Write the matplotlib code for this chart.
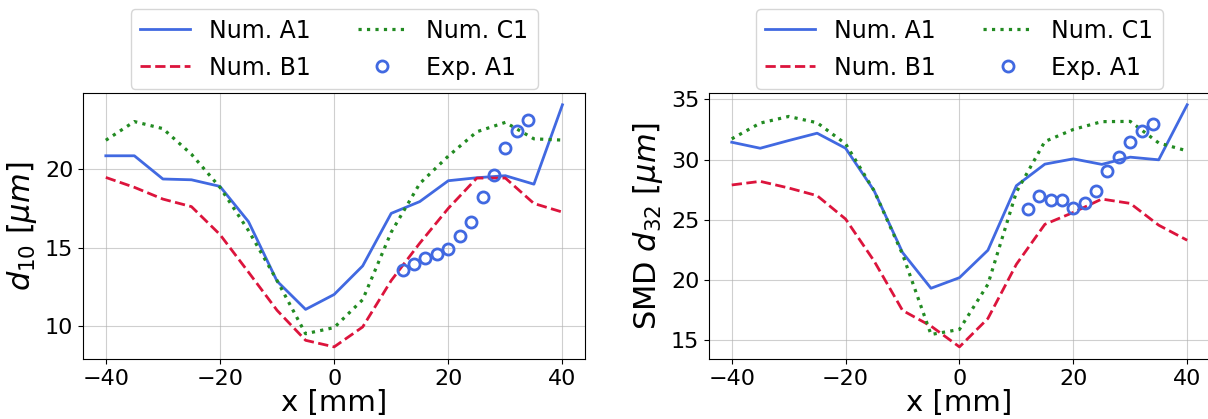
import numpy as np
import matplotlib.pyplot as plt

x_num = [-40, -35, -30, -25, -20, -15, -10, -5, 0, 5, 10, 15, 20, 25, 30, 35, 40]
x_exp = [12, 14, 16, 18, 20, 22, 24, 26, 28, 30, 32, 34]

# d10
d10_a1 = [20.87, 20.87, 19.39, 19.34, 18.92, 16.67, 12.88, 11.08, 12.03, 13.85, 17.2, 17.95, 19.28, 19.47, 19.6, 19.06, 24.12]
d10_b1 = [19.49, 18.86, 18.11, 17.63, 15.85, 13.45, 11.02, 9.11, 8.69, 9.96, 12.92, 15.3, 17.52, 19.45, 19.45, 17.83, 17.28]
d10_c1 = [21.86, 23.05, 22.6, 20.97, 18.86, 16.1, 12.92, 9.53, 9.92, 11.7, 16.0, 19.1, 20.85, 22.4, 23.0, 21.95, 21.87]
d10_exp = [13.6, 13.96, 14.34, 14.64, 14.91, 15.74, 16.68, 18.26, 19.66, 21.36, 22.43, 23.17]

# SMD d32
d32_a1 = [31.44, 30.94, 31.58, 32.19, 30.94, 27.42, 22.28, 19.31, 20.19, 22.47, 27.83, 29.62, 30.06, 29.6, 30.2, 29.98, 34.55]
d32_b1 = [27.89, 28.19, 27.64, 27.0, 25.06, 21.58, 17.47, 16.17, 14.44, 16.8, 21.3, 24.62, 25.61, 26.72, 26.36, 24.55, 23.3]
d32_c1 = [31.72, 33.03, 33.58, 33.06, 31.31, 27.42, 22.14, 15.47, 15.89, 19.64, 27.3, 31.5, 32.5, 33.15, 33.17, 31.38, 30.72]
d32_exp = [25.89, 27.0, 26.64, 26.64, 25.94, 26.39, 27.36, 29.03, 30.25, 31.44, 32.36, 32.97]

fig = plt.figure(figsize=(12.08, 4.19), dpi=100)
ax1 = fig.add_axes([0.0687, 0.1432, 0.4158, 0.6356])
ax2 = fig.add_axes([0.5869, 0.1432, 0.4147, 0.6356])

panels = [(ax1, d10_a1, d10_b1, d10_c1, d10_exp, r'$d_{10}$ [$\mu m$]'),
          (ax2, d32_a1, d32_b1, d32_c1, d32_exp, r'SMD $d_{32}$ [$\mu m$]')]

for ax, a1, b1, c1, ex, ylab in panels:
    ax.plot(x_num, a1, '-', color='royalblue', lw=2, label='Num. A1')
    ax.plot(x_num, b1, '--', color='crimson', lw=2, label='Num. B1')
    ax.plot(x_num, c1, ':', color='forestgreen', lw=2.3, label='Num. C1')
    ax.plot(x_exp, ex, 'o', mfc='none', mec='royalblue', mew=2, ms=8, label='Exp. A1')
    ax.grid(True, color='#b0b0b0', alpha=0.6)
    ax.set_xlabel('x [mm]', fontsize=21, labelpad=0)
    ax.set_ylabel(ylab, fontsize=22)
    ax.tick_params(labelsize=16)
    ax.set_xticks([-40, -20, 0, 20, 40])
    ax.legend(ncol=2, fontsize=17, loc='lower center', bbox_to_anchor=(0.5, 1.0),
              borderaxespad=0.15, handlelength=2.1, labelspacing=0.55)

ax1.set_yticks([10, 15, 20])
ax2.set_yticks([15, 20, 25, 30, 35])

plt.savefig('out.png', dpi=100)
